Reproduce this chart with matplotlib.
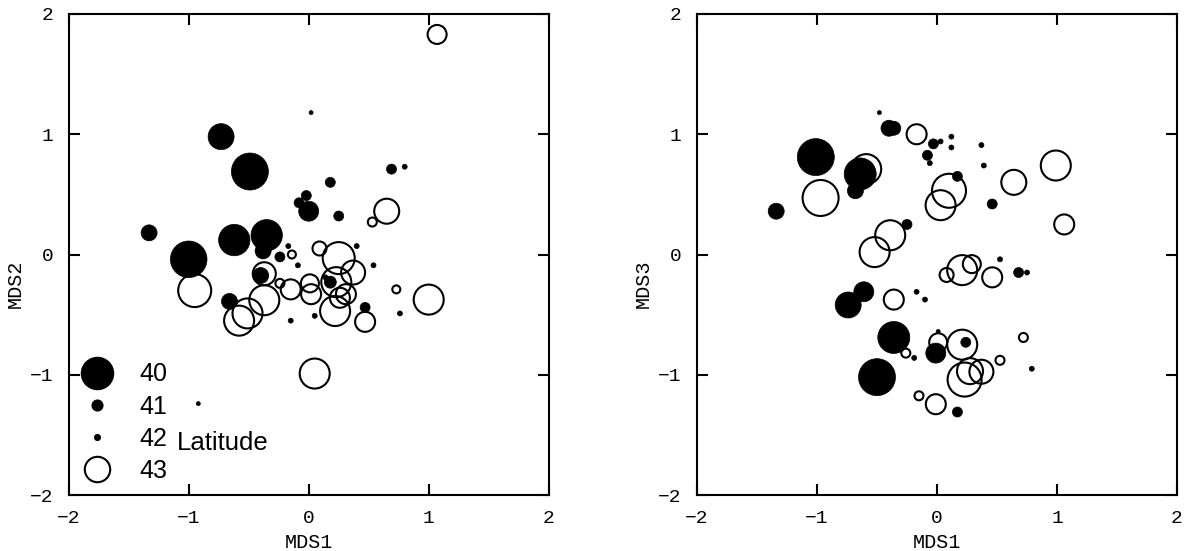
import matplotlib
matplotlib.use("Agg")
import matplotlib.pyplot as plt
from matplotlib.lines import Line2D
import numpy as np

# MDS1 vs MDS2 -- filled circles (latitude 40-42)
left_fill_x = [-0.73, -0.49, -1.33, -0.62, -0.35, -0.38, -1.00, -0.24, -0.17, -0.09,
               0.02, 0.69, 0.80, 0.18, -0.02, -0.08, 0.00, 0.25, 0.40, 0.54,
               -0.40, -0.66, -0.15, 0.05, 0.18, 0.14, 0.47, 0.76, -0.92]
left_fill_y = [0.98, 0.69, 0.18, 0.12, 0.16, 0.03, -0.04, -0.02, 0.07, -0.09,
               1.18, 0.71, 0.73, 0.60, 0.49, 0.43, 0.36, 0.32, 0.07, -0.09,
               -0.175, -0.39, -0.55, -0.51, -0.23, -0.19, -0.44, -0.49, -1.24]
left_fill_size = [13, 18.5, 8, 15.7, 15.7, 8, 18.3, 5, 2.5, 2.5,
                  2, 5, 2.5, 5, 5, 5, 10, 5, 2.5, 2.5,
                  8, 8, 2.5, 2.5, 6, 2.5, 5, 2.5, 2]

# MDS1 vs MDS2 -- open circles (latitude 43)
left_open_x = [-0.95, -0.14, 0.65, 0.53, 0.09, 0.25, -0.37, -0.24, -0.15, -0.37,
               -0.51, -0.58, 0.37, 0.02, 0.01, 0.23, 0.31, 0.26, 0.22, 0.47,
               0.73, 1.00, 0.05, 1.07]
left_open_y = [-0.30, 0.00, 0.36, 0.27, 0.05, -0.03, -0.16, -0.24, -0.29, -0.38,
               -0.49, -0.55, -0.15, -0.33, -0.24, -0.23, -0.33, -0.36, -0.47, -0.56,
               -0.29, -0.375, -0.99, 1.83]
left_open_size = [16.5, 4, 12.5, 4.5, 7, 16, 11.5, 4.5, 10, 15,
                  15, 15, 12, 10, 9, 15, 10, 10, 15, 10,
                  4, 15, 15, 9.5]

# MDS1 vs MDS3 -- filled circles
right_fill_x = [-0.48, -0.40, -0.36, -0.03, 0.03, 0.12, 0.12, -0.08, -0.06, 0.37,
                0.39, -1.01, -1.34, -0.64, -0.68, 0.17, -0.25, 0.46, 0.525, 0.68,
                0.75, -0.61, -0.74, -0.17, -0.10, -0.36, -0.19, -0.50, -0.01, 0.01,
                0.24, 0.17, 0.79]
right_fill_y = [1.18, 1.05, 1.05, 0.92, 0.94, 0.98, 0.89, 0.825, 0.76, 0.91,
                0.74, 0.81, 0.36, 0.67, 0.53, 0.65, 0.25, 0.42, -0.04, -0.15,
                -0.15, -0.31, -0.42, -0.31, -0.375, -0.69, -0.86, -1.02, -0.82, -0.64,
                -0.73, -1.31, -0.95]
right_fill_size = [2, 8, 7, 5, 2.5, 2.5, 2.5, 5, 2.5, 2.5,
                   2.5, 18.5, 8, 16, 8, 5, 5, 5, 2.5, 5,
                   2.5, 10, 13, 2.5, 2.5, 16, 2.5, 18.5, 10, 2,
                   5, 5, 2.5]

# MDS1 vs MDS3 -- open circles
right_open_x = [-0.17, -0.97, -0.59, 0.10, 0.03, -0.39, -0.52, 0.08, 0.21, 0.29,
                -0.36, 0.64, 0.99, 1.06, 0.46, -0.26, 0.01, 0.21, 0.23, 0.275,
                0.37, 0.525, 0.72, -0.15, -0.01]
right_open_y = [1.00, 0.47, 0.71, 0.53, 0.41, 0.16, 0.02, -0.17, -0.13, -0.08,
                -0.375, 0.60, 0.74, 0.25, -0.19, -0.82, -0.73, -0.75, -1.04, -0.97,
                -0.975, -0.88, -0.69, -1.175, -1.245]
right_open_size = [10, 18, 15, 17, 15, 15, 15, 7, 15, 9,
                   10, 12.5, 15, 10, 10, 4.5, 9, 15, 17, 13,
                   12, 4.5, 4.5, 4.5, 10]

legend_labels = ["40", "41", "42", "43"]
legend_size = [15.7, 5, 2.5, 12.7]
legend_filled = [True, True, True, False]

MONO = "Liberation Mono"
SANS = "Liberation Sans"
LW = 1.5


def area(size):
    # symbol radius (px at 100 dpi) -> scatter area in pt^2
    return (2 * 0.72 * np.asarray(size)) ** 2


def style_axes(ax, ylabel):
    ax.set_xlim(-2, 2)
    ax.set_ylim(-2, 2)
    ticks = [-2, -1, 0, 1, 2]
    ax.set_xticks(ticks)
    ax.set_yticks(ticks)
    ax.tick_params(direction="in", length=8, width=LW, top=True, right=True,
                   labelsize=14, pad=11)
    for lab in ax.get_xticklabels() + ax.get_yticklabels():
        lab.set_family(MONO)
    for sp in ax.spines.values():
        sp.set_linewidth(LW)
    ax.set_xlabel("MDS1", family=MONO, fontsize=14.5)
    ax.set_ylabel(ylabel, family=MONO, fontsize=14.5)
    ax.xaxis.set_label_coords(0.5, -0.08)
    ax.yaxis.set_label_coords(-0.092, 0.44)


def draw(ax, fx, fy, fs, ox, oy, osz):
    ax.scatter(ox, oy, s=area(osz), facecolors="none", edgecolors="black",
               linewidths=LW, zorder=2)
    ax.scatter(fx, fy, s=area(fs), facecolors="black", edgecolors="black",
               linewidths=0.5, zorder=3)


fig = plt.figure(figsize=(11.91, 5.51), dpi=100)
W, H = 1191, 551
ax1 = fig.add_axes([68.7 / W, 1 - 495 / H, 480 / W, 481 / H])
ax2 = fig.add_axes([697 / W, 1 - 495 / H, 480 / W, 481 / H])

draw(ax1, left_fill_x, left_fill_y, left_fill_size,
     left_open_x, left_open_y, left_open_size)
draw(ax2, right_fill_x, right_fill_y, right_fill_size,
     right_open_x, right_open_y, right_open_size)
style_axes(ax1, "MDS2")
style_axes(ax2, "MDS3")

handles = []
for sz, filled in zip(legend_size, legend_filled):
    handles.append(Line2D([], [], linestyle="none", marker="o",
                          markersize=2 * 0.72 * sz,
                          markerfacecolor="black" if filled else "none",
                          markeredgecolor="black", markeredgewidth=LW))
ax1.legend(handles, legend_labels, loc="center left",
           bbox_to_anchor=(0.01, 0.15), frameon=False, borderpad=0,
           borderaxespad=0, handlelength=1.9, handletextpad=0.75,
           labelspacing=0.33, prop={"family": SANS, "size": 18})
ax1.text(0.225, 0.108, "Latitude", transform=ax1.transAxes, ha="left",
         va="center", family=SANS, fontsize=18.5)

fig.savefig("out.png", dpi=100)
